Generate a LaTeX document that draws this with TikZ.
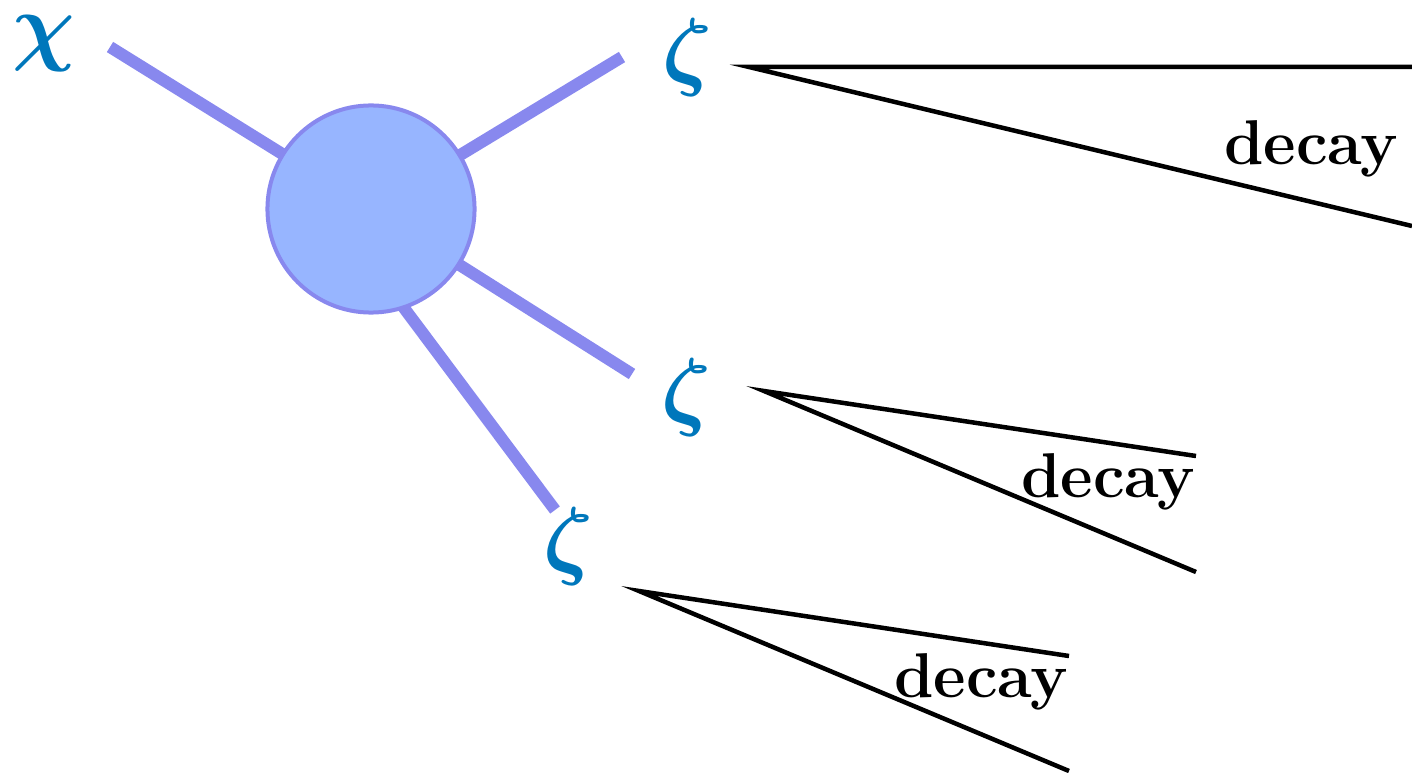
\documentclass[tikz,border=0pt]{standalone}
\usepackage{amsmath}
\usetikzlibrary{backgrounds}
\definecolor{propblue}{RGB}{136,136,238}
\definecolor{blobfill}{RGB}{151,181,255}
\definecolor{labblue}{RGB}{0,119,187}
\tikzset{
  prop/.style={line width=0.12cm, draw=propblue},
  blobst/.style={circle, draw=propblue, fill=blobfill, line width=0.04cm, minimum size=2.07cm, inner sep=0pt},
  plabel/.style={text=labblue, inner sep=0pt, font=\fontsize{26}{30}\selectfont},
  decline/.style={line width=0.045cm, draw=black},
  declabel/.style={inner sep=0pt, font=\fontsize{18}{21}\selectfont\bfseries}
}
\begin{document}
\begin{tikzpicture}[x=0.01cm,y=-0.01cm]
\useasboundingbox (0,0) rectangle (1412,773);
% blob
\node[blobst] (blob) at (371,209) {};
% free ends of propagators
\coordinate (e1) at (110,47);
\coordinate (e2) at (622,57);
\coordinate (e3) at (632,374);
\coordinate (e4) at (555,510);
\begin{pgfonlayer}{background}
\draw[prop] (blob.center) -- (e1);
\draw[prop] (blob.center) -- (e2);
\draw[prop] (blob.center) -- (e3);
\draw[prop] (blob.center) ++(-41,0) -- (e4);
\end{pgfonlayer}
% labels
\node[plabel] (chi) at (44,44) {$\boldsymbol{\chi}$};
\node[plabel] (z1) at (687,58) {$\boldsymbol{\zeta}$};
\node[plabel] (z2) at (686,398) {$\boldsymbol{\zeta}$};
\node[plabel] (z3) at (568,547) {$\boldsymbol{\zeta}$};
% decays
\coordinate (v1) at (749,67);
\coordinate (a1) at (1412,67);
\coordinate (b1) at (1412,226);
\draw[decline] (a1) -- (v1) -- (b1);
\node[declabel] (d1) at (1311,149) {decay};
\coordinate (v2) at (764,391);
\coordinate (a2) at (1196,456);
\coordinate (b2) at (1196,572);
\draw[decline] (a2) -- (v2) -- (b2);
\node[declabel] (d2) at (1108,482) {decay};
\coordinate (v3) at (639,591);
\coordinate (a3) at (1069,656);
\coordinate (b3) at (1069,771);
\draw[decline] (a3) -- (v3) -- (b3);
\node[declabel] (d3) at (981,682) {decay};
\end{tikzpicture}
\end{document}
